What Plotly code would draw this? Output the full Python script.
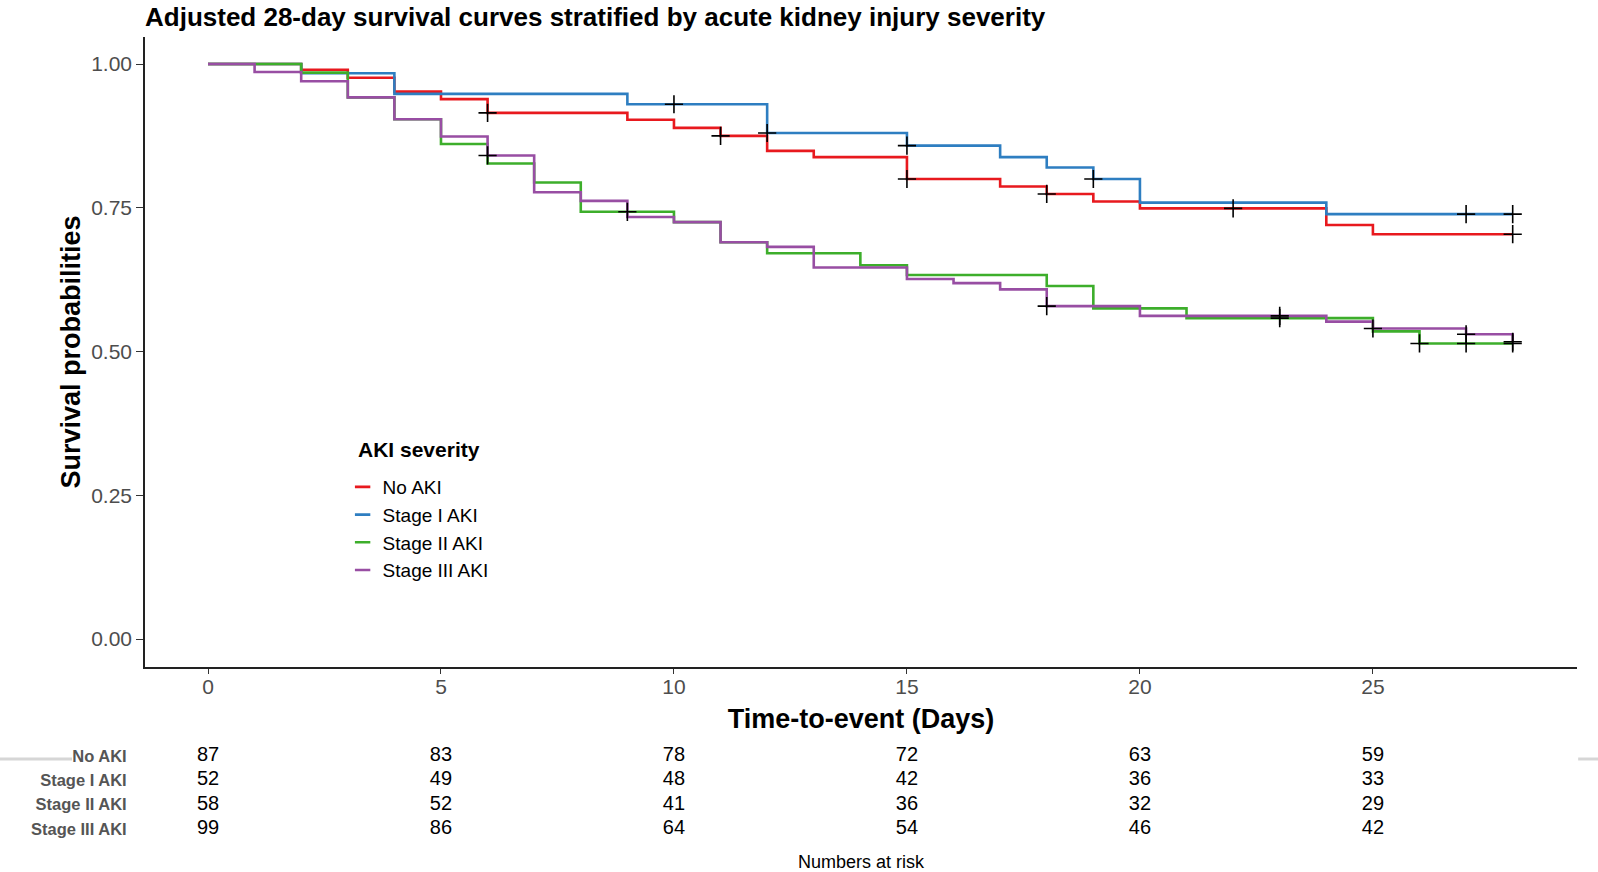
import plotly.graph_objects as go
import numpy as np

# ---------------- data ----------------
groups = ["No AKI", "Stage I AKI", "Stage II AKI", "Stage III AKI"]
colors = ["#E8191E", "#2E7EC1", "#3DAE2B", "#984EA3"]

no_aki_t = [0, 2, 3, 4, 5, 6, 9, 10, 11, 12, 13, 15, 17, 18, 19, 20, 24, 25, 28]
no_aki_s = [1.0, 0.990, 0.976, 0.952, 0.939, 0.915, 0.903, 0.889, 0.875, 0.849, 0.838,
            0.800, 0.787, 0.774, 0.761, 0.749, 0.720, 0.704, 0.704]
no_aki_c = [6, 11, 15, 18, 22, 28]

st1_t = [0, 2, 4, 9, 12, 15, 17, 18, 19, 20, 24, 28]
st1_s = [1.0, 0.984, 0.948, 0.930, 0.880, 0.858, 0.838, 0.820, 0.800, 0.759, 0.739, 0.739]
st1_c = [10, 12, 15, 19, 27, 28]

st2_t = [0, 2, 3, 4, 5, 6, 7, 8, 10, 11, 12, 14, 15, 18, 19, 21, 25, 26, 28]
st2_s = [1.0, 0.985, 0.942, 0.904, 0.861, 0.827, 0.794, 0.743, 0.725, 0.690, 0.671,
         0.650, 0.633, 0.614, 0.575, 0.558, 0.535, 0.514, 0.514]
st2_c = [9, 23, 26, 27, 28]

st3_t = [0, 1, 2, 3, 4, 5, 6, 7, 8, 9, 10, 11, 12, 13, 15, 16, 17, 18, 20, 24, 25, 27, 28]
st3_s = [1.0, 0.986, 0.970, 0.942, 0.904, 0.874, 0.841, 0.777, 0.762, 0.734, 0.725, 0.690,
         0.682, 0.646, 0.626, 0.619, 0.608, 0.579, 0.562, 0.552, 0.540, 0.530, 0.517]
st3_c = [6, 18, 23, 25, 27, 28]

risk_times = [0, 5, 10, 15, 20, 25]
risk_no_aki = [87, 83, 78, 72, 63, 59]
risk_st1 = [52, 49, 48, 42, 36, 33]
risk_st2 = [58, 52, 41, 36, 32, 29]
risk_st3 = [99, 86, 64, 54, 46, 42]

x_ticks = [0, 5, 10, 15, 20, 25]
y_ticks = [0.0, 0.25, 0.50, 0.75, 1.00]

# ---------------- figure ----------------
FONT = "Liberation Sans, Arial, sans-serif"
fig = go.Figure()

series = [(no_aki_t, no_aki_s, no_aki_c), (st1_t, st1_s, st1_c),
          (st2_t, st2_s, st2_c), (st3_t, st3_s, st3_c)]


def step_value(ts, ss, t):
    idx = np.searchsorted(ts, t, side="right") - 1
    return ss[idx]


for name, col, (ts, ss, cs) in zip(groups, colors, series):
    fig.add_trace(go.Scatter(x=ts, y=ss, mode="lines", line=dict(color=col, width=2.6, shape="hv"),
                             showlegend=False, hoverinfo="skip", name=name))
for name, col, (ts, ss, cs) in zip(groups, colors, series):
    fig.add_trace(go.Scatter(x=cs, y=[step_value(ts, ss, c) for c in cs], mode="markers",
                             marker=dict(symbol="cross-thin", size=13, line=dict(color="black", width=1.6)),
                             showlegend=False, hoverinfo="skip"))
# legend entries
for name, col in zip(groups, colors):
    fig.add_trace(go.Scatter(x=[None], y=[None], mode="markers", name=name,
                             marker=dict(symbol="line-ew-open", size=11, color=col,
                                         line=dict(color=col, width=2.6))))

# risk table
rows = [risk_no_aki, risk_st1, risk_st2, risk_st3]
for i, vals in enumerate(rows):
    fig.add_trace(go.Scatter(x=risk_times, y=[3 - i] * len(risk_times), mode="text",
                             text=[str(v) for v in vals], textposition="middle center",
                             textfont=dict(family=FONT, size=20, color="black"),
                             xaxis="x2", yaxis="y2", showlegend=False, hoverinfo="skip"))

x_range = [-1.352, 29.38]
fig.update_layout(
    width=1598, height=872,
    paper_bgcolor="white", plot_bgcolor="white",
    margin=dict(l=145, r=21, t=37, b=0),
    font=dict(family=FONT, color="black"),
    title=dict(text="<b>Adjusted 28-day survival curves stratified by acute kidney injury severity</b>",
               x=0, xref="paper", xanchor="left", y=1 - 17 / 872, yref="container", yanchor="middle",
               font=dict(size=26, color="black", family=FONT)),
    xaxis=dict(domain=[0, 1], range=x_range, tickvals=x_ticks, showgrid=False, zeroline=False,
               showline=True, linecolor="#222222", linewidth=1.5, ticks="outside", ticklen=5,
               tickcolor="#333333", tickwidth=1.2, anchor="y", automargin=False,
               ticklabelstandoff=-5,
               tickfont=dict(size=21, color="#4D4D4D", family=FONT),
               title=dict(text="<b>Time-to-event (Days)</b>", font=dict(size=27, color="black", family=FONT),
                          standoff=12)),
    yaxis=dict(domain=[0.24551, 1], range=[-0.0487, 1.047], tickvals=y_ticks, tickformat=".2f",
               showgrid=False, zeroline=False, showline=True, linecolor="#222222", linewidth=1.5,
               ticks="outside", ticklen=7, tickcolor="#333333", tickwidth=1.2, anchor="x",
               automargin=False,
               tickfont=dict(size=21, color="#4D4D4D", family=FONT),
               title=dict(text="<b>Survival probabilities</b>", font=dict(size=27, color="black", family=FONT),
                          standoff=3)),
    xaxis2=dict(domain=[0, 1], range=x_range, showgrid=False, zeroline=False, showline=False,
                showticklabels=False, ticks="", anchor="y2", automargin=False,
                title=dict(text="Numbers at risk", font=dict(size=18, color="black", family=FONT), standoff=11)),
    yaxis2=dict(domain=[0.0335, 0.1533], range=[-0.617, 3.493], tickvals=[3, 2, 1, 0],
                ticktext=["<b>%s</b>" % g for g in groups], showgrid=False, zeroline=False,
                showline=False, ticks="outside", ticklen=14, tickcolor="rgba(0,0,0,0)",
                anchor="x2", automargin=False,
                tickfont=dict(size=16.5, color="#555555", family=FONT)),
    legend=dict(x=0.138, y=0.4838, xanchor="left", yanchor="top", bgcolor="rgba(0,0,0,0)",
                font=dict(size=19, color="black", family=FONT), tracegroupgap=0, itemwidth=30),
    annotations=[dict(text="<b>AKI severity</b>", x=(356 - 145) / 1432, y=(872 - 449) / 835,
                      xref="paper", yref="paper", xanchor="left", yanchor="middle", showarrow=False,
                      font=dict(size=21, color="black", family=FONT))],
    shapes=[dict(type="line", xref="paper", yref="paper", x0=-145 / 1432, x1=(72 - 145) / 1432,
                 y0=(872 - 759) / 835, y1=(872 - 759) / 835, line=dict(color="#D6D6D6", width=3)),
            dict(type="line", xref="paper", yref="paper", x0=1.0008, x1=(1598 - 145) / 1432,
                 y0=(872 - 759) / 835, y1=(872 - 759) / 835, line=dict(color="#D6D6D6", width=3))],
)

fig.write_html("out.html", config={"displayModeBar": False},
               post_script="document.body.style.margin='0px';")
